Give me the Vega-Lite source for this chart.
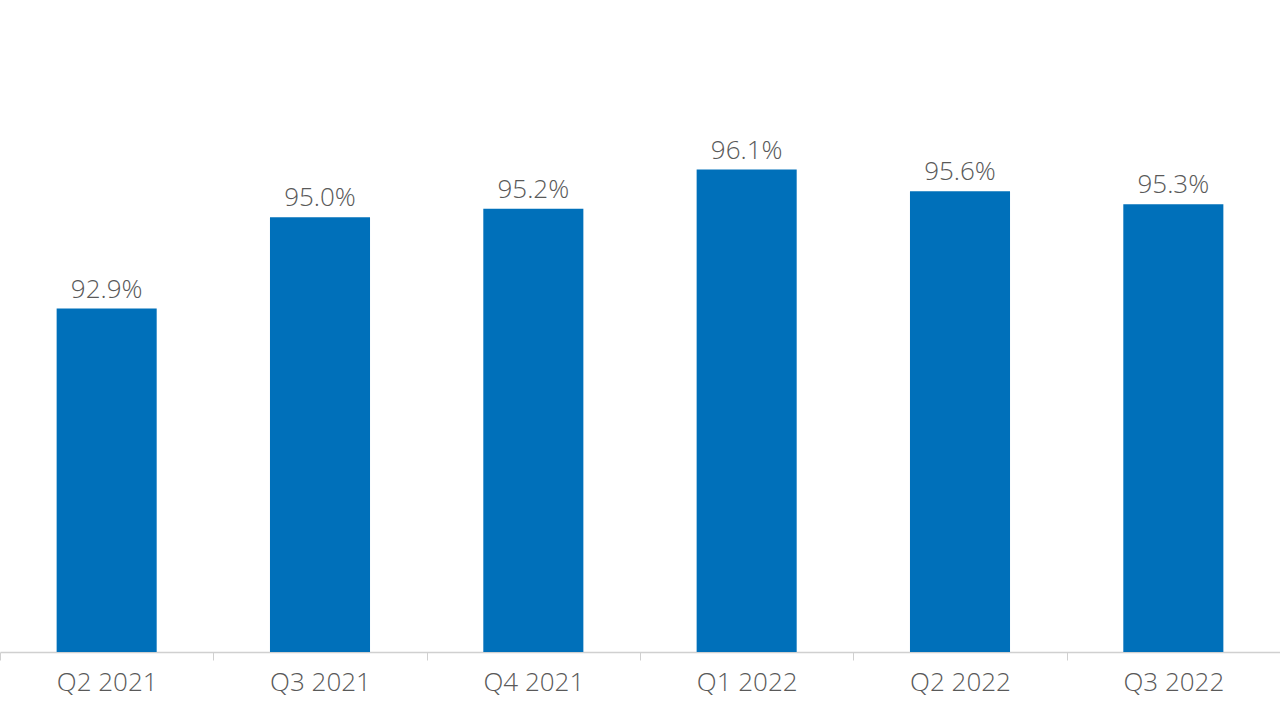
{
  "$schema": "https://vega.github.io/schema/vega-lite/v6.json",
  "width": 1280,
  "height": 652,
  "autosize": "none",
  "padding": {"left": 0, "right": 0, "top": 0, "bottom": 68},
  "background": "white",
  "config": {"view": {"stroke": null}},
  "data": {"values": [
    {"quarter": "Q2 2021", "value": 92.9, "label": "92.9%"},
    {"quarter": "Q3 2021", "value": 95.0, "label": "95.0%"},
    {"quarter": "Q4 2021", "value": 95.2, "label": "95.2%"},
    {"quarter": "Q1 2022", "value": 96.1, "label": "96.1%"},
    {"quarter": "Q2 2022", "value": 95.6, "label": "95.6%"},
    {"quarter": "Q3 2022", "value": 95.3, "label": "95.3%"}
  ]},
  "encoding": {
    "x": {
      "field": "quarter", "type": "nominal", "sort": null,
      "scale": {"paddingInner": 0, "paddingOuter": 0},
      "axis": {
        "title": null, "labelAngle": 0, "labelFont": "Open Sans", "labelFontSize": 26, "labelFontWeight": 300,
        "labelColor": "#595959", "domainColor": "#D0D0D0", "domainWidth": 1.3,
        "tickColor": "#D0D0D0", "tickSize": 8, "tickBand": "extent", "labelPadding": 9, "grid": false
      }
    },
    "y": {
      "field": "value", "type": "quantitative",
      "scale": {"domain": [85, 100], "zero": false, "clamp": true},
      "axis": null
    }
  },
  "layer": [
    {"mark": {"type": "bar", "color": "#0070BA", "clip": true, "width": {"band": 0.469}}},
    {"mark": {"type": "text", "baseline": "bottom", "dy": -6, "font": "Open Sans", "fontSize": 26, "fontWeight": 300, "color": "#595959"},
     "encoding": {"text": {"field": "label"}}}
  ]
}
